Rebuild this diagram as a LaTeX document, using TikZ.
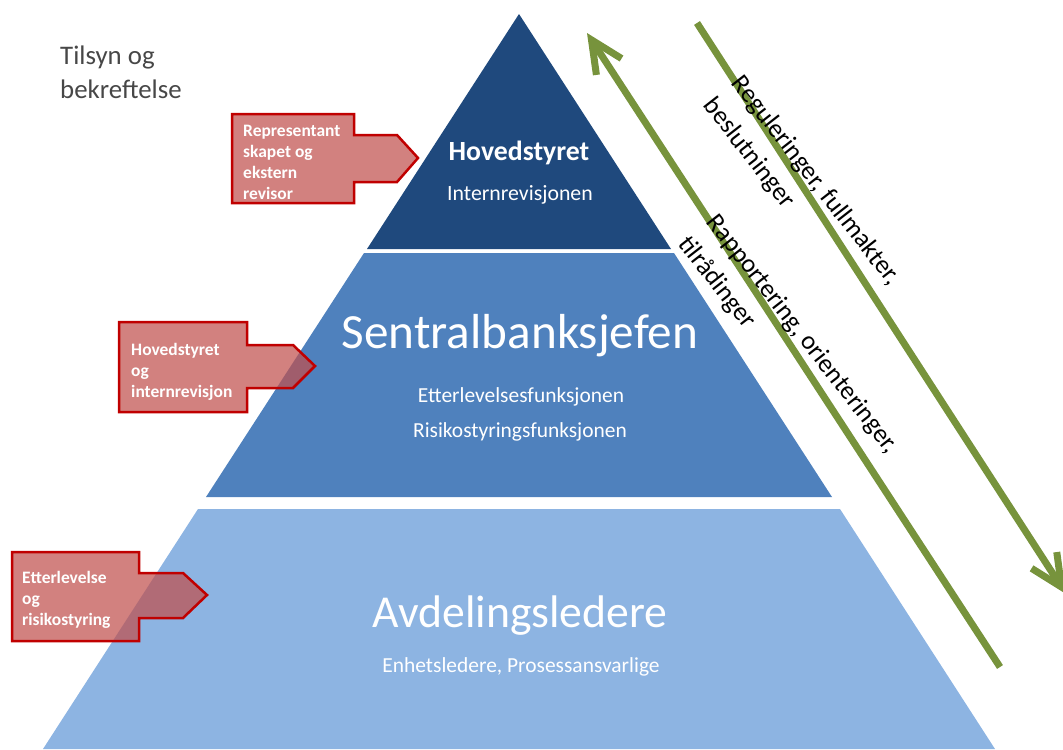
\documentclass[tikz,border=0pt]{standalone}
\usepackage{fontspec}
\setmainfont{Carlito}
\usetikzlibrary{arrows.meta}
\definecolor{topblue}{RGB}{31,73,125}
\definecolor{midblue}{RGB}{79,129,189}
\definecolor{lowblue}{RGB}{141,180,226}
\definecolor{flowgreen}{RGB}{119,147,60}
\definecolor{calloutred}{RGB}{192,80,77}
\definecolor{calloutedge}{RGB}{192,0,0}
\tikzset{
	callout/.style={draw=calloutedge, line width=0.75mm, fill=calloutred, fill opacity=0.72},
	callouttext/.style={text=white, font=\bfseries\fontsize{14.9}{17.9}\selectfont, align=left, anchor=north west, inner sep=0pt},
	tiertext/.style={text=white, anchor=base, inner sep=0pt},
	flow/.style={draw=flowgreen, line width=2.1mm, -{Straight Barb[length=9.6mm, width=9mm]}},
	flowtext/.style={font=\fontsize{22.2}{30.4}\selectfont, align=left, anchor=north west, inner sep=0pt, rotate=-52}
}

\begin{document}
\begin{tikzpicture}[x=0.3mm, y=-0.3mm]
			%%%%% START %%%%%
			\useasboundingbox (0,0) rectangle (1063,749);
			
			\fill[topblue] (519,14) -- (671,249) -- (367,249) -- cycle;
			\fill[midblue] (364,253) -- (674,253) -- (832,497) -- (206,497) -- cycle;
			\fill[lowblue] (198,509) -- (840,509) -- (995,749) -- (43,749) -- cycle;
			
			\node[tiertext, font=\bfseries\fontsize{23.7}{28}\selectfont] (board) at (519,160) {Hovedstyret};
			\node[tiertext, font=\fontsize{18.6}{22}\selectfont] (audit) at (520,200) {Internrevisjonen};
			\node[tiertext, font=\fontsize{42}{50}\selectfont] (governor) at (520,348) {Sentralbanksjefen};
			\node[tiertext, font=\fontsize{18.3}{22}\selectfont] (compliance) at (521,402) {Etterlevelsesfunksjonen};
			\node[tiertext, font=\fontsize{18.3}{22}\selectfont] (risk) at (520,437) {Risikostyringsfunksjonen};
			\node[tiertext, font=\fontsize{39}{46}\selectfont] (heads) at (520,627) {Avdelingsledere};
			\node[tiertext, font=\fontsize{18.3}{22}\selectfont] (units) at (521,672) {Enhetsledere, Prosessansvarlige};
			
			\node[font=\fontsize{22.9}{29}\selectfont, text=black!72, align=left, anchor=north west, inner sep=0pt] (tilsyn) at (60,46) {Tilsyn og\\bekreftelse};
			
			\draw[callout] (232,114) -- (354,114) -- (354,135) -- (397,135) -- (418,158) -- (397,182) -- (354,182) -- (354,203) -- (232,203) -- cycle;
			\node[callouttext] (external) at (243,125) {Representant\\skapet og\\ekstern\\revisor};
			
			\draw[callout] (119,322) -- (247,322) -- (247,345) -- (293,345) -- (315,366) -- (293,388) -- (247,388) -- (247,412) -- (119,412) -- cycle;
			\node[callouttext] (internal) at (131,343) {Hovedstyret\\og\\internrevisjon};
			
			\draw[callout] (12,552) -- (139,552) -- (139,573) -- (183,573) -- (207,595) -- (183,618) -- (139,618) -- (139,641) -- (12,641) -- cycle;
			\node[callouttext] (control) at (22,571) {Etterlevelse\\og\\risikostyring};
			
			\coordinate (rap0) at (1000,667);
			\coordinate (rap1) at (587,33);
			\draw[flow] (rap0) -- (rap1);
			\coordinate (reg0) at (697,23);
			\coordinate (reg1) at (1066,594);
			\draw[flow] (reg0) -- (reg1);
			
			\node[flowtext] (reglabel) at (745,72) {Reguleringer, fullmakter,\\beslutninger};
			\node[flowtext] (raplabel) at (720,211) {Rapportering, orienteringer,\\tilrådinger};
			%%%%% END %%%%%
\end{tikzpicture}
\end{document}
